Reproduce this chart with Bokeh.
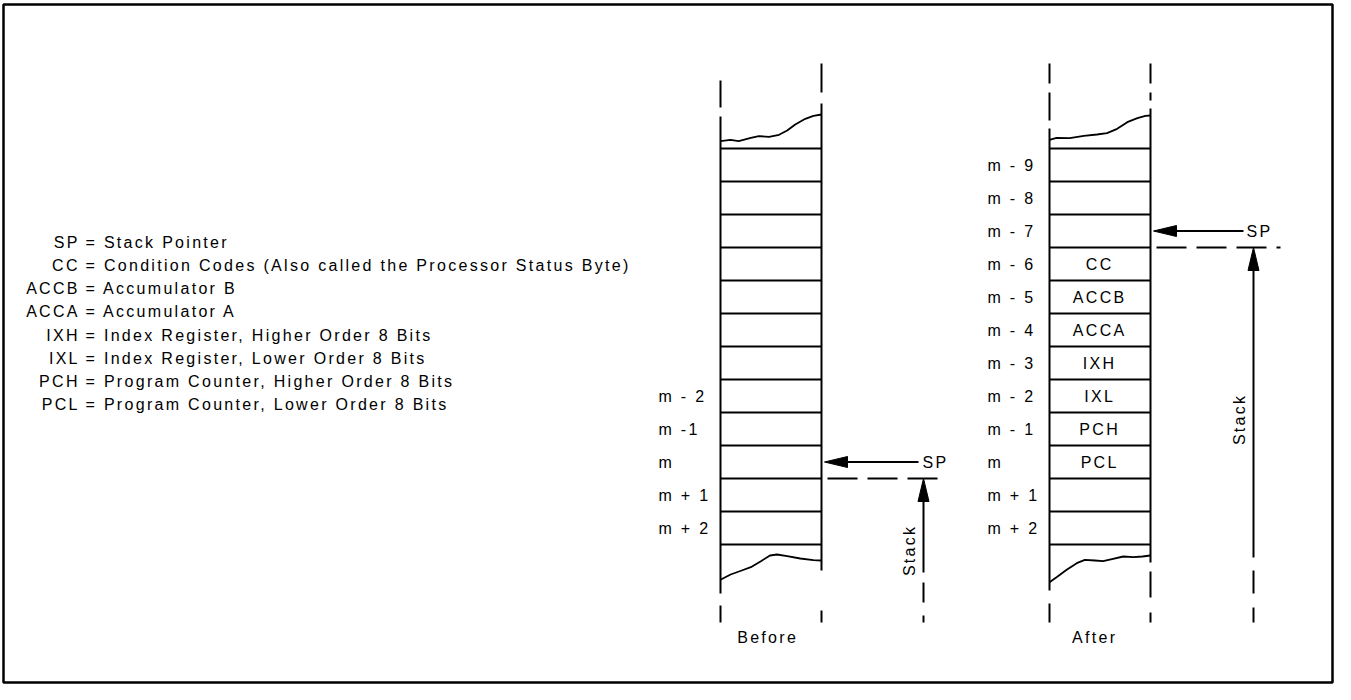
import math
from bokeh.plotting import figure
from bokeh.models import Range1d, InlineStyleSheet
from bokeh.core.properties import value
from bokeh.embed import file_html
from bokeh.resources import INLINE

# ---------------- content ----------------
legend_keys = ["SP", "CC", "ACCB", "ACCA", "IXH", "IXL", "PCH", "PCL"]
legend_desc = [
    "Stack Pointer",
    "Condition Codes (Also called the Processor Status Byte)",
    "Accumulator B",
    "Accumulator A",
    "Index Register, Higher Order 8 Bits",
    "Index Register, Lower Order 8 Bits",
    "Program Counter, Higher Order 8 Bits",
    "Program Counter, Lower Order 8 Bits",
]
slot_count = 12
before_labels = ["", "", "", "", "", "", "", "m - 2", "m -1", "m", "m + 1", "m + 2"]
after_labels = ["m - 9", "m - 8", "m - 7", "m - 6", "m - 5", "m - 4",
                "m - 3", "m - 2", "m - 1", "m", "m + 1", "m + 2"]
after_contents = ["", "", "", "CC", "ACCB", "ACCA", "IXH", "IXL", "PCH", "PCL", "", ""]
before_sp_slot = 9      # slot the stack pointer addresses (0-based)
after_sp_slot = 2
before_stack_edge = 10  # slot boundary where the stack begins
after_stack_edge = 3
panel_titles = ["Before", "After"]
pointer_label = "SP"
stack_label = "Stack"

# ---------------- layout / style ----------------
FONT = value("Liberation Sans")
LS = 2.3                      # letter spacing (css)
CELL_TOP, CELL_H = 148, 33
W, H = 1335, 684

p = figure(width=W, height=H, x_range=Range1d(0, W), y_range=Range1d(H, 0),
           output_backend="svg", toolbar_location=None, min_border=0)
p.axis.visible = False
p.grid.visible = False
p.outline_line_color = None
p.background_fill_color = "white"
p.border_fill_color = "white"
p.stylesheets = [InlineStyleSheet(css=":host { letter-spacing: %spx; }" % LS)]


def txt(xs, ys, texts, size, align="left", angle=0.0):
    ax, ay = [], []
    for x, y, t in zip(xs, ys, texts):
        n = max(len(t) - 1, 0)
        shift = {"left": 0.0, "center": n * LS / 2, "right": n * LS}[align]
        if angle == 0:
            ax.append(x - shift)
            ay.append(y)
        else:
            ax.append(x)
            ay.append(y + shift)
    p.text(x=ax, y=ay, text=texts, text_font=FONT, text_font_size=value(size),
           text_align=align, text_baseline="middle", angle=angle, text_color="black")


def boundary(k):
    return CELL_TOP + CELL_H * k


def center(k):
    return CELL_TOP + CELL_H * (k + 0.5)


# frame
p.quad(left=[3], right=[1332], top=[4], bottom=[682], fill_color=None,
       line_color="black", line_width=2.5)

# legend
leg_y = [242 + 23.14 * i for i in range(len(legend_keys))]
txt([77] * len(legend_keys), leg_y, legend_keys, "16px", align="right")
txt([85] * len(legend_keys), leg_y, ["= " + d for d in legend_desc], "16px", align="left")

# columns
columns = [
    dict(x0=720, x1=821,
         left=[(80, 107), (116, 593), (605, 622)],
         right=[(63, 92), (103, 570), (610, 622)],
         top_wave=[(0, 140.7), (0.1, 139.3), (0.18, 140.7), (0.3, 137.3), (0.38, 135.7),
                   (0.48, 136.3), (0.58, 134.3), (0.66, 130), (0.74, 124), (0.84, 118.3),
                   (0.92, 115.3), (1, 114)],
         bot_wave=[(0, 579.3), (0.1, 574), (0.21, 570), (0.3, 566.7), (0.4, 560.7),
                   (0.49, 555), (0.56, 554), (0.66, 555.7), (0.79, 558), (0.92, 559.7),
                   (1, 560)],
         labels=before_labels, label_x=658, contents=[""] * slot_count,
         title_x=766, sp_slot=before_sp_slot, sp_end=918, sp_text_x=922,
         edge=before_stack_edge, dash_end=943, stack_x=923, stack_end=572,
         stack_dashes=[(582, 602), (615, 622)], stack_text_x=909, stack_text_y=551),
    dict(x0=1049, x1=1150,
         left=[(63, 83), (92, 120), (128, 590), (603, 622)],
         right=[(63, 83), (92, 100), (108, 562), (571, 597), (612, 622)],
         top_wave=[(0, 139.3), (0.07, 137.3), (0.2, 137.7), (0.34, 135.3), (0.47, 134),
                   (0.57, 132.7), (0.67, 128.3), (0.77, 121.7), (0.87, 117.7),
                   (0.95, 115.3), (1, 115)],
         bot_wave=[(0, 581.7), (0.07, 576.7), (0.17, 569.3), (0.27, 562.7), (0.35, 559.3),
                   (0.45, 560), (0.53, 560.7), (0.63, 558.3), (0.73, 556), (0.83, 556.7),
                   (0.92, 556), (1, 555)],
         labels=after_labels, label_x=987, contents=after_contents,
         title_x=1093, sp_slot=after_sp_slot, sp_end=1243, sp_text_x=1246,
         edge=after_stack_edge, dash_end=1280, stack_x=1253, stack_end=557,
         stack_dashes=[(570, 593), (607, 622)], stack_text_x=1239, stack_text_y=420),
]

for c, title in zip(columns, panel_titles):
    x0, x1 = c["x0"], c["x1"]
    # vertical edges
    segs = [(x0, a, b) for a, b in c["left"]] + [(x1, a, b) for a, b in c["right"]]
    p.segment(x0=[s[0] for s in segs], y0=[s[1] for s in segs],
              x1=[s[0] for s in segs], y1=[s[2] for s in segs],
              line_color="black", line_width=2)
    # cell boundaries
    ks = list(range(slot_count + 1))
    p.segment(x0=[x0] * len(ks), x1=[x1] * len(ks),
              y0=[boundary(k) for k in ks], y1=[boundary(k) for k in ks],
              line_color="black", line_width=2)
    # torn edges
    for wave in (c["top_wave"], c["bot_wave"]):
        p.line(x=[x0 + t * (x1 - x0) for t, _ in wave], y=[y for _, y in wave],
               line_color="black", line_width=1.8)
    # address labels
    idx = [i for i, l in enumerate(c["labels"]) if l]
    txt([c["label_x"]] * len(idx), [center(i) for i in idx],
        [c["labels"][i] for i in idx], "16px", align="left")
    # cell contents
    idx = [i for i, l in enumerate(c["contents"]) if l]
    if idx:
        txt([1098] * len(idx), [center(i) for i in idx],
            [c["contents"][i] for i in idx], "16px", align="center")
    # title
    txt([c["title_x"]], [637], [title], "16px", align="center")
    # SP arrow
    ty = center(c["sp_slot"])
    tip = x1 + 3
    head = 23
    p.segment(x0=[tip + head - 2], y0=[ty], x1=[c["sp_end"]], y1=[ty],
              line_color="black", line_width=2)
    p.patch(x=[tip, tip + head, tip + head], y=[ty, ty - 5.5, ty + 5.5],
            fill_color="black", line_color="black", line_width=1)
    txt([c["sp_text_x"]], [ty], [pointer_label], "16px", align="left")
    # dashed stack boundary
    ey = boundary(c["edge"])
    p.segment(x0=[x1 + 6], y0=[ey], x1=[c["dash_end"]], y1=[ey],
              line_color="black", line_width=2, line_dash="30 10")
    # Stack arrow
    sx = c["stack_x"]
    p.segment(x0=[sx], y0=[ey + head - 2], x1=[sx], y1=[c["stack_end"]],
              line_color="black", line_width=2)
    p.patch(x=[sx, sx - 5.5, sx + 5.5], y=[ey, ey + head, ey + head],
            fill_color="black", line_color="black", line_width=1)
    p.segment(x0=[sx] * len(c["stack_dashes"]), x1=[sx] * len(c["stack_dashes"]),
              y0=[a for a, _ in c["stack_dashes"]], y1=[b for _, b in c["stack_dashes"]],
              line_color="black", line_width=2)
    txt([c["stack_text_x"]], [c["stack_text_y"]], [stack_label], "16px",
        align="center", angle=math.pi / 2)

open("out.html", "w").write(file_html(p, INLINE))
